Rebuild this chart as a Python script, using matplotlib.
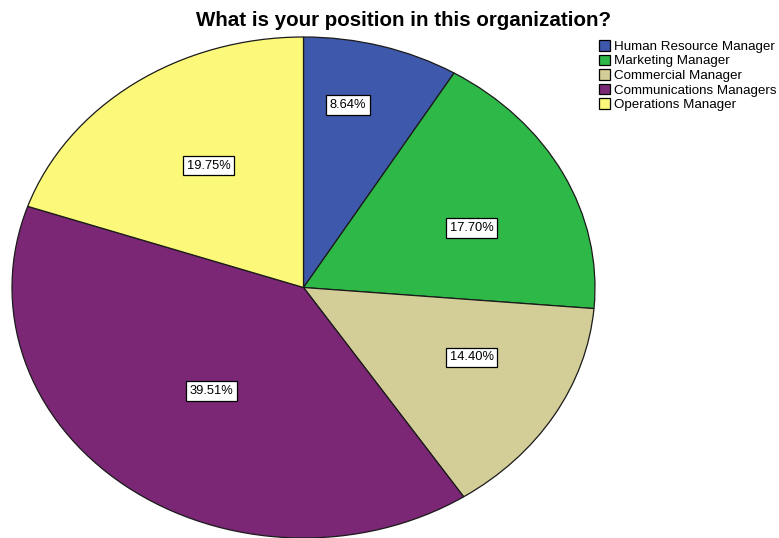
import numpy as np
import matplotlib
matplotlib.use("Agg")
import matplotlib.pyplot as plt
from matplotlib.patches import Patch

plt.rcParams['font.family'] = ['Liberation Sans', 'DejaVu Sans']

categories = ["Human Resource Manager", "Marketing Manager", "Commercial Manager",
              "Communications Managers", "Operations Manager"]
percentages = [8.64, 17.70, 14.40, 39.51, 19.75]
colors = ["#3e58ac", "#2eb848", "#d3ce97", "#7b2776", "#fbf87a"]
title = "What is your position in this organization?"

# small nudges (points) for the value labels away from the wedge centroids
label_nudge = [(-5, 17), (3, -9), (5, 9), (-1, -2), (8, -4)]

W, H = 779, 538
fig = plt.figure(figsize=(W / 100, H / 100), dpi=100)

# Elliptical pie: axes box spans the ellipse bounds
left, right, top, bottom = 12, 595, 37, 538
ax = fig.add_axes([left / W, 1 - bottom / H, (right - left) / W, (bottom - top) / H])
wedges, _ = ax.pie(percentages, colors=colors, startangle=90, counterclock=False,
                   radius=1.0, wedgeprops=dict(edgecolor="#1a1a1a", linewidth=0.9))
ax.set_aspect('auto')
ax.set_xlim(-1, 1)
ax.set_ylim(-1, 1)
ax.axis('off')

# Percentage labels placed at each wedge's centroid
for w, p, nd in zip(wedges, percentages, label_nudge):
    t1, t2 = np.deg2rad(w.theta1), np.deg2rad(w.theta2)
    span = t2 - t1
    mid = (t1 + t2) / 2
    r = 2 * np.sin(span / 2) / (1.5 * span)
    ax.annotate(f"{p:.2f}%", xy=(r * np.cos(mid), r * np.sin(mid)),
                xytext=nd, textcoords='offset points',
                ha='center', va='center', fontsize=9.3, color='black',
                bbox=dict(boxstyle='square,pad=0.28', facecolor='white',
                          edgecolor='black', linewidth=0.9))

fig.text(404 / W, 1 - 21 / H, title, ha='center', va='center',
         fontsize=14.8, fontweight='bold')

handles = [Patch(facecolor=c, edgecolor='black', linewidth=0.9) for c in colors]
fig.legend(handles, categories, loc='upper left',
           bbox_to_anchor=(599 / W, 1 - 40 / H), frameon=False,
           fontsize=9.6, handlelength=0.85, handleheight=0.85,
           handletextpad=0.3, labelspacing=0.12, borderpad=0, borderaxespad=0)

fig.savefig("out.png", dpi=100)
